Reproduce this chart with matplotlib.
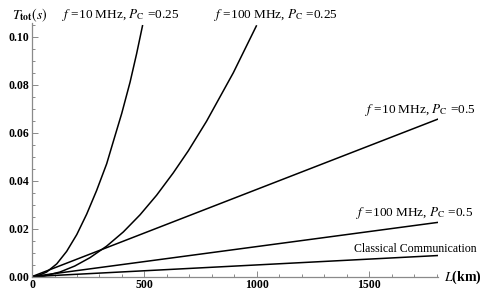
import matplotlib
matplotlib.use("Agg")
import matplotlib.pyplot as plt
from matplotlib.ticker import MultipleLocator

plt.rcParams['font.family'] = ['Liberation Serif', 'DejaVu Serif']
plt.rcParams['mathtext.fontset'] = 'stix'

# Data (L in km, T_tot in s)
L_10_025 = [0, 25, 65, 110, 154, 199, 243, 287, 332, 359, 399, 436, 465, 492]
T_10_025 = [0, 0.0003, 0.0019, 0.0053, 0.0105, 0.0175, 0.0260, 0.0358, 0.0470, 0.0555,
            0.0680, 0.0810, 0.0928, 0.1048]

L_100_025 = [0, 50, 124, 190, 258, 332, 406, 480, 554, 628, 695, 776, 895, 999]
T_100_025 = [0, 0.0002, 0.0019, 0.0044, 0.0079, 0.0127, 0.0186, 0.0257, 0.0339, 0.0432,
             0.0524, 0.0647, 0.0849, 0.1047]

L_10_05 = [0, 1813]
T_10_05 = [0, 0.0659]

L_100_05 = [0, 1806]
T_100_05 = [0, 0.0226]

L_classical = [0, 1810]
T_classical = [0, 0.0088]

fig = plt.figure(figsize=(4.85, 3.0), dpi=100)
ax = fig.add_axes([0.066, 0.078, 0.837, 0.845])

for L, T in [(L_10_025, T_10_025), (L_100_025, T_100_025), (L_10_05, T_10_05),
             (L_100_05, T_100_05), (L_classical, T_classical)]:
    ax.plot(L, T, color='black', lw=1.1, solid_capstyle='butt', solid_joinstyle='round')

ax.set_xlim(0, 1805)
ax.set_ylim(0, 0.1056)
ax.spines['top'].set_visible(False)
ax.spines['right'].set_visible(False)
for s in ['left', 'bottom']:
    ax.spines[s].set_color('#8a8a8a')
    ax.spines[s].set_linewidth(0.9)

ax.xaxis.set_major_locator(MultipleLocator(500))
ax.xaxis.set_minor_locator(MultipleLocator(100))
ax.yaxis.set_major_locator(MultipleLocator(0.02))
ax.yaxis.set_minor_locator(MultipleLocator(0.005))
ax.tick_params(which='both', direction='in', color='#8a8a8a', width=0.7)
ax.tick_params(which='major', length=4, labelsize=8.5, pad=2)
ax.tick_params(which='minor', length=2)
ax.set_xticks([0, 500, 1000, 1500])
ax.set_xticklabels(['0', '500', '1000', '1500'], fontweight='bold')
ax.set_yticks([0, 0.02, 0.04, 0.06, 0.08, 0.10])
ax.set_yticklabels(['0.00', '0.02', '0.04', '0.06', '0.08', '0.10'], fontweight='bold')

# axis labels in Mathematica style
fig.text(30 / 485, 1 - 15 / 300, r'$T_{\mathbf{tot}}(\mathbf{\mathit{s}})$', ha='center', va='center', fontsize=10)
fig.text(444 / 485, 1 - 277 / 300, r'$L$(km)', ha='left', va='center', fontsize=10, fontweight='bold')

# curve annotations
fs = 9.5
fig.text(121 / 485, 1 - 15 / 300, r'$f$ =10 MHz, $P_{\mathrm{C}}$ =0.25', ha='center', va='center', fontsize=fs)
fig.text(276 / 485, 1 - 15 / 300, r'$f$ =100 MHz, $P_{\mathrm{C}}$ =0.25', ha='center', va='center', fontsize=fs)
fig.text(475 / 485, 1 - 110 / 300, r'$f$ =10 MHz, $P_{\mathrm{C}}$ =0.5', ha='right', va='center', fontsize=fs)
fig.text(473 / 485, 1 - 213 / 300, r'$f$ =100 MHz, $P_{\mathrm{C}}$ =0.5', ha='right', va='center', fontsize=fs)
fig.text(477 / 485, 1 - 249 / 300, 'Classical Communication', ha='right', va='center', fontsize=8.6)

fig.savefig('out.png', dpi=100)
